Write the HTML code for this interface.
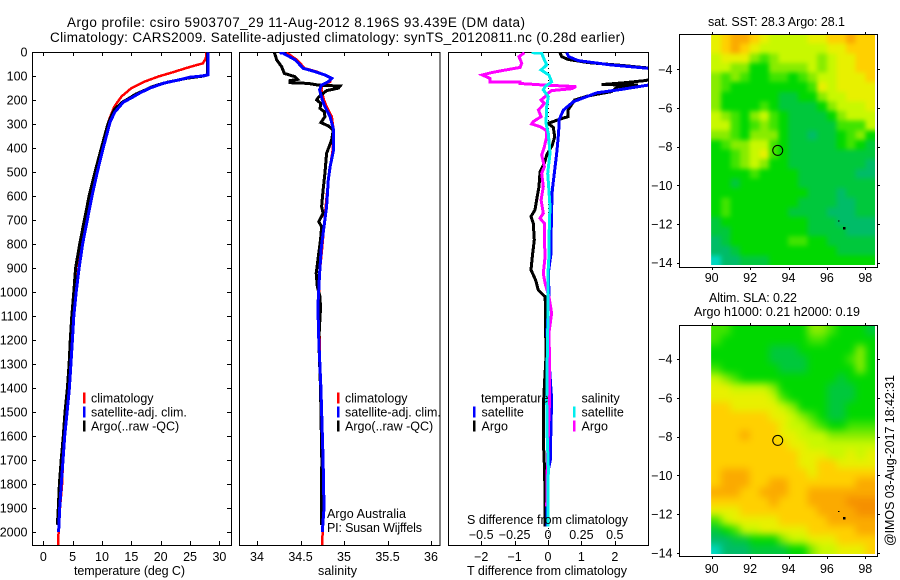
<!DOCTYPE html>
<html>
<head>
<meta charset="utf-8">
<title>Argo profile</title>
<style>
html,body{margin:0;padding:0;background:#fff;width:900px;height:580px;overflow:hidden}
svg{display:block}
text{font-family:"Liberation Sans",sans-serif;font-size:12.5px;fill:#000}
</style>
</head>
<body>
<svg id="chart" width="900" height="580" viewBox="0 0 900 580" xmlns="http://www.w3.org/2000/svg">
<g id="maps"></g>
<g id="profiles"></g>
<g id="labels">
<text x="67" y="27" textLength="458" style="font-size:13.5px">Argo profile: csiro 5903707_29 11-Aug-2012 8.196S 93.439E (DM data)</text>
<text x="50" y="42" textLength="575" style="font-size:13.5px">Climatology: CARS2009. Satellite-adjusted climatology: synTS_20120811.nc (0.28d earlier)</text>
<text x="74" y="575" textLength="111">temperature (deg C)</text>
<text x="318" y="575" textLength="39">salinity</text>
<text x="467" y="575" textLength="160">T difference from climatology</text>
<text x="467" y="524" textLength="161">S difference from climatology</text>
<text x="327" y="518" textLength="79">Argo Australia</text>
<text x="327" y="532" textLength="95">PI: Susan Wijffels</text>
<text x="708" y="26" textLength="137">sat. SST: 28.3 Argo: 28.1</text>
<text x="709" y="302" textLength="88">Altim. SLA: 0.22</text>
<text x="694" y="316" textLength="166">Argo h1000: 0.21 h2000: 0.19</text>
<text transform="translate(894,546) rotate(-90)" textLength="171">@IMOS 03-Aug-2017 18:42:31</text>
</g>
<g id="legends"></g>
</svg>
<script>
// ---------- profile data (depth in m, temperature in deg C, salinity) ----------
const depthTicks = [0,100,200,300,400,500,600,700,800,900,1000,1100,1200,1300,1400,1500,1600,1700,1800,1900,2000];
const tempTicks = [0,5,10,15,20,25,30];
const salTicks = [34,34.5,35,35.5,36];
const dTTicks = [-2,-1,0,1,2];
const dSTicks = [-0.5,-0.25,0,0.25,0.5];

const tempClimDepth = [3,25,47,58,68,85,102,123,151,186,228,283,350,400,500,600,700,800,900,1000,1100,1200,1300,1400,1500,1600,1700,1800,1900,2000,2055];
const tempClimValue = [27.8,27.7,27.2,25.6,24.2,22,19.6,17.3,15,13.3,12.1,11.2,10.7,10.2,9.1,8.1,7.3,6.5,6,5.6,5.2,4.95,4.7,4.45,4.05,3.65,3.35,3.2,2.85,2.6,2.5];
const tempArgoDepth = [3,95,100,105,110,118,125,135,145,160,175,190,210,240,260,300,400,500,600,700,800,900,1000,1100,1200,1300,1400,1500,1600,1700,1800,1900,1970];
const tempArgoValue = [28,28,27.3,25.8,24.3,22.8,21.3,19.8,18.5,17.2,15.8,14.8,13.4,12.1,11.7,11,9.9,8.8,7.8,7,6.2,5.5,5.2,4.85,4.6,4.4,4.1,3.7,3.4,3.05,2.75,2.56,2.4];
const tempSatDepth = [3,95,100,105,115,130,150,170,190,210,250,290,400,500,600,700,800,900,1000,1100,1200,1300,1400,1500,1600,1700,1800,1900,2000];
const tempSatValue = [28.1,28.1,27,25,23.3,20.5,18.2,16.5,15.1,13.6,12.2,11.4,10.2,9.2,8.3,7.5,6.7,6.1,5.6,5.2,4.95,4.7,4.45,4.05,3.65,3.35,3.07,2.8,2.6];

const salClimDepth = [3,33,68,82,96,110,124,138,158,200,228,269,325,408,478,533,644,728,811,922,1061,1200,1400,1700,1900,2055];
const salClimValue = [34.34,34.46,34.55,34.69,34.78,34.85,34.84,34.75,34.74,34.77,34.8,34.86,34.88,34.87,34.84,34.82,34.79,34.77,34.75,34.72,34.71,34.72,34.73,34.75,34.76,34.75];
const salArgoDepth = [3,33,61,89,103,114,119,128,131,138,142,151,161,172,189,200,214,235,249,269,294,308,325,367,422,506,575,644,672,707,728,783,853,922,978,1019,1068,1200,1400,1700,1970];
const salArgoValue = [34.2,34.226,34.283,34.314,34.437,34.467,34.379,34.379,34.59,34.705,34.954,34.935,34.8,34.762,34.705,34.686,34.735,34.724,34.774,34.781,34.735,34.82,34.877,34.858,34.8,34.78,34.76,34.743,34.76,34.71,34.743,34.73,34.705,34.68,34.693,34.724,34.73,34.71,34.73,34.745,34.74];
const salSatDepth = [3,5,33,68,82,96,110,124,138,158,200,228,269,325,408,478,533,644,728,811,922,1061,1200,1400,1700,1900,2000];
const salSatValue = [34.26,34.3,34.44,34.53,34.67,34.78,34.86,34.82,34.74,34.72,34.75,34.78,34.84,34.88,34.88,34.84,34.82,34.8,34.77,34.74,34.72,34.7,34.71,34.735,34.76,34.77,34.75];

const dTArgoDepth = [3,19,31,44,56,68,89,114,119,128,136,138,144,165,183,200,242,269,283,297,314,353,388,429,464,499,561,617,658,686,714,783,853,908,950,992,1019,1068,1172,1269,1366,1477,1616,1714,1825,1977];
const dTArgoValue = [0.36,0.41,0.6,1.2,2.2,3.1,4.9,3.1,2.9,2.3,1.6,2.7,2.1,1.9,1.2,0.8,0.6,0.6,0.3,0,0.16,0.2,0.13,-0.04,-0.11,-0.24,-0.27,-0.34,-0.39,-0.51,-0.44,-0.41,-0.47,-0.51,-0.37,-0.29,-0.09,-0.07,-0.07,-0.06,-0.1,-0.14,-0.14,-0.11,-0.09,-0.09];
const dTSatDepth = [3,19,36,54,68,89,131,138,158,170,207,242,283,333,422,506,575,644,783,839,922,1006,1068,1172,1283,1366,1450,1547,1700,1755,1977];
const dTSatValue = [0.56,0.62,0.9,1.9,3,4.9,3.6,3,2.1,1.46,0.76,0.46,0.33,0.32,0.26,0.19,0.13,0.11,0.09,0.09,0.01,0.03,0.01,-0.03,0.03,0.07,0.11,0.09,0.07,-0.01,-0.03];
const dSArgoDepth = [3,19,47,64,78,86,96,110,124,126,131,138,144,153,161,172,186,200,214,242,269,290,300,311,328,353,394,429,478,506,561,617,672,693,714,783,853,922,964,1019,1068,1089,1172,1283,1450,1519,1727,1894];
const dSArgoValue = [-0.177,-0.217,-0.197,-0.209,-0.347,-0.422,-0.492,-0.435,-0.435,-0.2,-0.22,-0.022,0.21,0.177,0.027,0,-0.022,-0.052,-0.027,-0.072,-0.052,-0.11,-0.122,-0.06,-0.01,-0.01,-0.027,-0.047,-0.027,-0.047,-0.035,-0.052,-0.035,-0.06,-0.027,-0.027,-0.022,-0.035,-0.022,0.007,0.022,0.027,0.007,0.012,0.012,0.007,-0.005,-0.01];
const dSSatDepth = [3,4,13,33,54,75,96,124,144,158,186,228,297,339,422,506,575,644,728,853,922,1068,1172,1311,1450,1589,1727,1977];
const dSSatValue = [-0.122,-0.047,-0.042,-0.027,-0.01,-0.052,0.007,0.027,-0.022,-0.035,0.002,-0.01,-0.015,0.002,0.015,-0.002,0.007,0.015,0.01,0.007,0,0,-0.002,-0.007,-0.01,-0.007,0.002,0];

// ---------- map data: colour level per half-degree cell, north to south, 90E to 98.5E ----------
const lonTicks = [90,92,94,96,98];
const latTicks = [-4,-6,-8,-10,-12,-14];
const levelColors = ['#00d8c0','#00bc68','#00c83c','#00d800','#40e400','#88ec00','#c8f800','#e8f000','#ffd000','#fbaa00','#f59000'];
const sstLevels = [
[7,8,9,9,8,7,6,6,6,6,7,7,8,8,9,8,8],
[7,8,9,8,7,6,6,6,6,6,6,6,7,7,8,8,8],
[6,7,7,7,5,4,5,6,6,6,6,5,6,7,7,8,8],
[6,6,5,5,3,3,5,5,5,5,6,5,6,7,7,8,8],
[5,4,5,4,3,3,4,4,3,4,5,6,6,7,7,7,8],
[5,4,3,3,3,3,3,3,3,3,4,7,6,7,7,7,7],
[5,3,3,3,3,3,3,2,2,3,3,5,6,6,7,7,7],
[5,3,3,3,3,4,3,2,2,2,2,3,5,6,6,6,7],
[6,5,4,3,5,6,4,3,2,2,2,2,3,5,6,6,6],
[6,6,4,3,4,5,4,3,2,2,2,2,2,4,4,4,6],
[5,5,4,3,5,5,5,3,2,2,1,2,2,3,4,5,3],
[3,4,5,5,6,6,4,3,2,2,2,2,2,3,4,3,2],
[3,3,4,5,6,7,4,3,2,2,2,2,2,2,2,2,2],
[3,3,4,5,6,5,3,3,2,2,2,2,2,2,2,2,1],
[3,3,3,3,4,3,3,3,3,2,2,2,2,2,2,1,1],
[3,3,2,3,3,3,3,3,3,2,2,2,2,2,2,2,2],
[3,3,3,3,3,3,3,3,3,3,2,2,2,1,2,2,2],
[3,4,3,3,3,3,3,3,3,2,2,2,2,1,1,2,2],
[3,4,3,3,3,3,3,3,2,2,2,2,1,1,1,2,2],
[2,3,3,3,3,3,3,3,3,3,2,2,2,1,1,1,1],
[2,2,3,3,3,3,3,3,3,3,2,2,2,2,1,1,1],
[1,2,3,3,3,3,3,3,4,4,3,3,2,2,2,2,2],
[1,1,2,3,3,3,3,3,3,3,3,3,3,2,2,2,2],
[0,1,1,2,2,2,3,3,3,3,3,3,3,3,3,3,3]
];
const slaLevels = [
[4,4,3,3,3,3,3,3,3,3,5,5,4,3,3,3,2],
[4,3,3,3,3,3,3,3,3,3,4,4,3,3,3,3,3],
[3,3,3,3,3,3,2,2,2,3,3,3,3,3,3,5,3],
[3,3,3,3,3,3,2,2,2,2,3,3,3,3,4,5,3],
[4,3,3,3,3,3,3,2,2,2,3,3,3,3,3,5,3],
[6,5,4,3,3,3,3,3,3,3,3,3,3,2,3,3,3],
[7,7,6,6,6,6,5,3,3,3,3,3,2,2,2,3,3],
[7,7,7,7,7,7,6,4,3,3,3,3,2,2,2,3,3],
[8,8,7,7,7,7,7,6,5,3,3,3,2,2,3,3,3],
[8,8,8,8,8,8,7,7,6,5,4,3,2,2,3,3,3],
[8,8,8,8,8,8,8,7,6,6,5,4,3,3,4,4,4],
[8,8,8,9,8,8,8,7,7,6,6,6,5,5,5,5,5],
[8,8,8,8,8,8,8,8,7,7,6,6,6,6,6,6,6],
[8,8,8,8,8,8,8,8,8,7,7,7,6,6,7,6,7],
[8,8,8,8,8,8,8,8,8,7,7,8,8,7,7,7,7],
[8,9,9,9,8,8,8,8,8,8,7,8,8,8,8,8,8],
[8,9,9,9,8,8,9,9,8,8,8,8,8,8,8,9,9],
[9,9,9,8,8,9,9,9,8,8,9,9,9,9,9,9,9],
[8,8,8,8,8,8,9,8,8,8,9,9,9,9,10,10,10],
[7,7,7,8,8,8,8,8,8,8,8,9,9,9,9,10,10],
[4,6,7,7,7,7,7,8,8,8,8,8,9,9,9,9,9],
[2,3,4,6,6,7,7,7,7,7,8,8,8,8,8,9,9],
[1,1,2,2,3,3,3,5,6,6,7,7,7,8,8,8,8],
[0,1,1,1,2,2,2,2,3,3,5,6,6,7,7,7,8]
];

// ---------- axis functions ----------
const SVGNS = 'http://www.w3.org/2000/svg';
function depthY(d){ return 52 + d * 0.24; }
function tempX(t){ return 43.3 + t * 5.87; }
function salX(s){ return 257 + (s - 34) * 87; }
function dTX(t){ return 548 + t * 33.4; }
function dSX(s){ return 548 + s * 133.6; }
function lonX(lon){ return 711.7 + (lon - 90) * 19.2; }
function mk(tag, attrs, parent){
  const el = document.createElementNS(SVGNS, tag);
  for (const k in attrs) el.setAttribute(k, attrs[k]);
  parent.appendChild(el);
  return el;
}
function fmt(v){ return String(v).replace('-', '\u2212'); }

const profiles = document.getElementById('profiles');
const maps = document.getElementById('maps');
const legends = document.getElementById('legends');

function drawPanel(name, left, right, xf, xTicks, clipId){
  const top = 52, bottom = 545;
  const g = mk('g', {}, profiles);
  
  
  const clip = mk('clipPath', {id: clipId}, g);
  mk('rect', {x: left, y: top, width: right - left, height: bottom - top}, clip);
  const fr = mk('rect', {x: left + 0.5, y: top + 0.5, width: right - left, height: bottom - top, fill: 'none', stroke: '#000', 'stroke-width': 1, 'shape-rendering': 'crispEdges'}, g);
  
  
  xTicks.forEach(function(t){
    const x = Math.round(xf(t)) + 0.5;
    const a = mk('path', {d: 'M' + x + ' ' + top + 'v4M' + x + ' ' + bottom + 'v-4', stroke: '#000', fill: 'none', 'shape-rendering': 'crispEdges'}, g);
    
    
  });
  return g;
}
function drawXLabels(g, name, xf, ticks, y){
  ticks.forEach(function(t){
    const l = mk('text', {x: xf(t), y: y, 'text-anchor': 'middle'}, g);
    
    
    l.textContent = fmt(t);
  });
}
function drawLine(g, name, xf, depths, vals, color, width, clipId){
  const pts = depths.map(function(d, i){ return xf(vals[i]).toFixed(1) + ',' + depthY(d).toFixed(1); }).join(' ');
  const line = mk('polyline', {points: pts, fill: 'none', stroke: color, 'stroke-width': width, 'stroke-linejoin': 'miter', 'clip-path': 'url(#' + clipId + ')', 'shape-rendering': 'crispEdges'}, g);
  
  
}

// temperature panel
const pT = drawPanel('temperature', 32, 231, tempX, tempTicks, 'clipT');
drawXLabels(pT, 'temperature', tempX, tempTicks, 561);
depthTicks.forEach(function(d){
  const y = Math.round(depthY(d)) + 0.5;
  const t = mk('path', {d: 'M32 ' + y + 'h4M231 ' + y + 'h-4', stroke: '#000', fill: 'none', 'shape-rendering': 'crispEdges'}, pT);
  
  
  const l = mk('text', {x: 27.5, y: depthY(d) + 4.5, 'text-anchor': 'end'}, pT);
  
  
  l.textContent = d;
});
drawLine(pT, 'temperature-climatology-line', tempX, tempClimDepth, tempClimValue, '#ff0000', 2.5, 'clipT');
drawLine(pT, 'temperature-argo-line', tempX, tempArgoDepth, tempArgoValue, '#000000', 3, 'clipT');
drawLine(pT, 'temperature-satellite-line', tempX, tempSatDepth, tempSatValue, '#0000ff', 3, 'clipT');

// salinity panel
const pS = drawPanel('salinity', 239, 439.5, salX, salTicks, 'clipS');
drawXLabels(pS, 'salinity', salX, salTicks, 561);
drawLine(pS, 'salinity-climatology-line', salX, salClimDepth, salClimValue, '#ff0000', 2.5, 'clipS');
drawLine(pS, 'salinity-argo-line', salX, salArgoDepth, salArgoValue, '#000000', 3, 'clipS');
drawLine(pS, 'salinity-satellite-line', salX, salSatDepth, salSatValue, '#0000ff', 3, 'clipS');

// difference panel
const pD = drawPanel('difference', 448, 648, dTX, dTTicks, 'clipD');
drawXLabels(pD, 't-difference', dTX, dTTicks, 561);
drawXLabels(pD, 's-difference', dSX, dSTicks, 539);
dSTicks.forEach(function(t){
  const x = Math.round(dSX(t)) + 0.5;
  const a = mk('path', {d: 'M' + x + ' 52v4', stroke: '#000', fill: 'none', 'shape-rendering': 'crispEdges'}, pD);
  
  
});
const zero = mk('line', {x1: 548.5, x2: 548.5, y1: 52, y2: 545, stroke: '#000', 'stroke-dasharray': '1 3', 'shape-rendering': 'crispEdges'}, pD);


drawLine(pD, 't-difference-argo-line', dTX, dTArgoDepth, dTArgoValue, '#000000', 3, 'clipD');
drawLine(pD, 't-difference-satellite-line', dTX, dTSatDepth, dTSatValue, '#0000ff', 3, 'clipD');
drawLine(pD, 's-difference-argo-line', dSX, dSArgoDepth, dSArgoValue, '#ff00ff', 3, 'clipD');
drawLine(pD, 's-difference-satellite-line', dSX, dSSatDepth, dSSatValue, '#00eeee', 3, 'clipD');

// legends
const legendEntries = [
  ['climatology', 84, 91, 398, '#ff0000'], ['satellite-adj. clim.', 84, 91, 412, '#0000ff'], ['Argo(..raw -QC)', 84, 91, 426, '#000000'],
  ['climatology', 338, 345, 398, '#ff0000'], ['satellite-adj. clim.', 338, 345, 412, '#0000ff'], ['Argo(..raw -QC)', 338, 345, 426, '#000000'],
  ['temperature', null, 481, 398, null], ['satellite', 474, 481.5, 412, '#0000ff'], ['Argo', 474, 481.5, 426, '#000000'],
  ['salinity', null, 581.5, 398, null], ['satellite', 574, 581.5, 412, '#00eeee'], ['Argo', 574, 581.5, 426, '#ff00ff']
];
legendEntries.forEach(function(e){
  if (e[1] !== null) {
    const sw = mk('rect', {x: e[1] - 1, y: e[3] - 5.5, width: 2.5, height: 11, fill: e[4], 'shape-rendering': 'crispEdges'}, legends);
    
    
  }
  const t = mk('text', {x: e[2], y: e[3] + 4.5}, legends);
  
  
  t.textContent = e[0];
});

// maps
function drawMap(name, levels, top, bottom, dataTop, dataBottom, lat4Y, latScale, labelY, blur){
  const g = mk('g', {}, maps);
  
  
  const latY = function(lat){ return lat4Y + (-4 - lat) * latScale; };
  const left = lonX(89.97), right = 875;
  const rowH = (dataBottom - dataTop) / levels.length;
  const colW = (right - left) / levels[0].length;
  const clip = mk('clipPath', {id: name + '-clip'}, g);
  mk('rect', {x: left, y: dataTop, width: right - left, height: dataBottom - dataTop}, clip);
  const filt = mk('filter', {id: name + '-blur', filterUnits: 'userSpaceOnUse', x: 680, y: dataTop - 30, width: 225, height: dataBottom - dataTop + 60, 'color-interpolation-filters': 'sRGB'}, g);
  mk('feGaussianBlur', {stdDeviation: blur}, filt);
  const clipped = mk('g', {'clip-path': 'url(#' + name + '-clip)'}, g);
  const cells = mk('g', {filter: 'url(#' + name + '-blur)'}, clipped);
  
  
  const pad = 14;
  levels.forEach(function(row, r){
    row.forEach(function(v, c){
      let x = left + c * colW, y = dataTop + r * rowH, w = colW + 0.4, h = rowH + 0.4;
      if (c === 0) { x -= pad; w += pad; }
      if (c === row.length - 1) { w += pad; }
      if (r === 0) { y -= pad; h += pad; }
      if (r === levels.length - 1) { h += pad; }
      const cell = mk('rect', {x: x.toFixed(2), y: y.toFixed(2), width: w.toFixed(2), height: h.toFixed(2), fill: levelColors[v], 'shape-rendering': 'crispEdges'}, cells);
      
      
    });
  });
  const fr = mk('rect', {x: 679.5, y: top + 0.5, width: 198, height: bottom - top, fill: 'none', stroke: '#000', 'shape-rendering': 'crispEdges'}, g);
  
  
  lonTicks.forEach(function(lon){
    const x = Math.round(lonX(lon)) + 0.5;
    const t = mk('path', {d: 'M' + x + ' ' + top + 'v-2M' + x + ' ' + (bottom + 1) + 'v2', stroke: '#000', fill: 'none', 'shape-rendering': 'crispEdges'}, g);
    
    
    const l = mk('text', {x: lonX(lon), y: labelY, 'text-anchor': 'middle'}, g);
    
    
    l.textContent = lon;
  });
  latTicks.forEach(function(lat){
    const y = Math.round(latY(lat)) + 0.5;
    const t = mk('path', {d: 'M679 ' + y + 'h-2M878 ' + y + 'h2', stroke: '#000', fill: 'none', 'shape-rendering': 'crispEdges'}, g);
    
    
    const l = mk('text', {x: 672.5, y: latY(lat) + 4.5, 'text-anchor': 'end'}, g);
    
    
    l.textContent = fmt(lat);
  });
  const c = mk('circle', {cx: lonX(93.439), cy: latY(-8.196), r: 5, fill: 'none', stroke: '#000', 'stroke-width': 1}, g);
  
  
  const dot = mk('rect', {x: lonX(96.9) - 1, y: latY(-12.2) - 1, width: 2.5, height: 2.5, fill: '#000', 'shape-rendering': 'crispEdges'}, g);
  
  
  const dash = mk('rect', {x: lonX(96.58), y: latY(-11.83), width: 1.5, height: 1, fill: '#000', 'shape-rendering': 'crispEdges'}, g);
  
  
}
drawMap('sst', sstLevels, 34, 267, 34, 265, 69.3, 19.33, 282, 2.5);
drawMap('sla', slaLevels, 325, 556, 326, 554, 359, 19.4, 573, 4);
</script>
</body>
</html>
